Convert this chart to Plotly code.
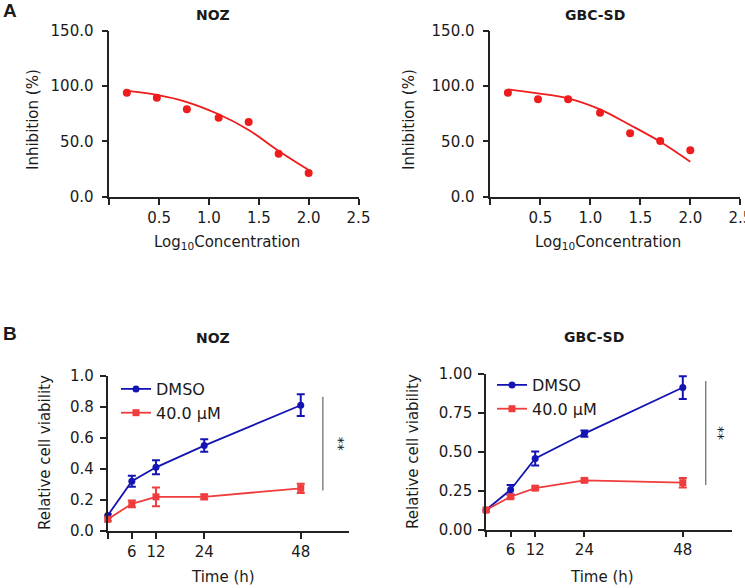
import plotly.graph_objects as go

# ---------------- data ----------------
log_conc = [0.176, 0.477, 0.778, 1.097, 1.398, 1.699, 2.0]
noz_inhib = [94.1, 89.6, 79.1, 71.5, 67.6, 38.9, 21.5]
noz_fit = [95.7, 92.1, 85.7, 74.6, 60.4, 41.4, 24.2]
gbc_inhib = [94.1, 88.2, 88.2, 76.0, 57.4, 50.4, 42.0]
gbc_fit = [97.2, 93.6, 89.1, 79.1, 64.9, 49.8, 31.7]

time_h = [0, 6, 12, 24, 48]
noz_dmso = [0.10, 0.32, 0.41, 0.55, 0.81]
noz_dmso_err = [0.01, 0.035, 0.045, 0.04, 0.07]
noz_40 = [0.075, 0.175, 0.22, 0.22, 0.275]
noz_40_err = [0.01, 0.022, 0.06, 0.015, 0.03]
gbc_dmso = [0.125, 0.255, 0.455, 0.615, 0.91]
gbc_dmso_err = [0.01, 0.03, 0.045, 0.02, 0.073]
gbc_40 = [0.125, 0.21, 0.265, 0.315, 0.30]
gbc_40_err = [0.008, 0.01, 0.01, 0.01, 0.03]

conc_ticks = [0.5, 1.0, 1.5, 2.0, 2.5]
inhib_ticks = [0, 50, 100, 150]
time_ticks = [6, 12, 24, 48]
origin_tick = [0]
noz_via_ticks = [0, 0.2, 0.4, 0.6, 0.8, 1.0]
gbc_via_ticks = [0, 0.25, 0.5, 0.75, 1.0]

noz_sig_x = [53.5, 53.5]
noz_sig_y = [0.26, 0.865]
noz_star = (57.6, 0.56)
gbc_sig_x = [53.6, 53.6]
gbc_sig_y = [0.285, 0.952]
gbc_star = (57.0, 0.62)

# ---------------- style ----------------
W, H = 745, 588
FONT = "DejaVu Sans"
TXT = "#1a1a1a"
RED_TOP = "#ee1c1c"
BLUE = "#1414b4"
RED = "#f03c3c"
AX = "#222222"


def fx(px):
    return px / W


def fy(py):
    return 1 - py / H


fig = go.Figure()

# top panels
fig.add_trace(go.Scatter(x=log_conc, y=noz_fit, mode="lines", line=dict(color=RED_TOP, width=1.8, shape="spline"),
                         xaxis="x", yaxis="y", showlegend=False, cliponaxis=False))
fig.add_trace(go.Scatter(x=log_conc, y=noz_inhib, mode="markers", marker=dict(color=RED_TOP, size=8),
                         xaxis="x", yaxis="y", showlegend=False, cliponaxis=False))
fig.add_trace(go.Scatter(x=log_conc, y=gbc_fit, mode="lines", line=dict(color=RED_TOP, width=1.8, shape="spline"),
                         xaxis="x2", yaxis="y2", showlegend=False, cliponaxis=False))
fig.add_trace(go.Scatter(x=log_conc, y=gbc_inhib, mode="markers", marker=dict(color=RED_TOP, size=8),
                         xaxis="x2", yaxis="y2", showlegend=False, cliponaxis=False))

# bottom panels
def eb(arr, color):
    return dict(type="data", array=arr, visible=True, color=color, thickness=2, width=4)


fig.add_trace(go.Scatter(x=time_h, y=noz_dmso, error_y=eb(noz_dmso_err, BLUE), mode="lines+markers", name="DMSO",
                         line=dict(color=BLUE, width=1.8), marker=dict(symbol="circle", size=7, color=BLUE),
                         xaxis="x3", yaxis="y3", legend="legend", cliponaxis=False))
fig.add_trace(go.Scatter(x=time_h, y=noz_40, error_y=eb(noz_40_err, RED), mode="lines+markers", name="40.0 μM",
                         line=dict(color=RED, width=1.8), marker=dict(symbol="square", size=7, color=RED),
                         xaxis="x3", yaxis="y3", legend="legend", cliponaxis=False))
fig.add_trace(go.Scatter(x=time_h, y=gbc_dmso, error_y=eb(gbc_dmso_err, BLUE), mode="lines+markers", name="DMSO",
                         line=dict(color=BLUE, width=1.8), marker=dict(symbol="circle", size=7, color=BLUE),
                         xaxis="x4", yaxis="y4", legend="legend2", cliponaxis=False))
fig.add_trace(go.Scatter(x=time_h, y=gbc_40, error_y=eb(gbc_40_err, RED), mode="lines+markers", name="40.0 μM",
                         line=dict(color=RED, width=1.8), marker=dict(symbol="square", size=7, color=RED),
                         xaxis="x4", yaxis="y4", legend="legend2", cliponaxis=False))

# significance lines
fig.add_trace(go.Scatter(x=noz_sig_x, y=noz_sig_y, mode="lines", line=dict(color="#666666", width=1.2),
                         xaxis="x3", yaxis="y3", showlegend=False, cliponaxis=False))
fig.add_trace(go.Scatter(x=gbc_sig_x, y=gbc_sig_y, mode="lines", line=dict(color="#666666", width=1.2),
                         xaxis="x4", yaxis="y4", showlegend=False, cliponaxis=False))

axis_common = dict(showline=True, linecolor=AX, linewidth=1.6, ticks="outside", ticklen=6,
                   tickwidth=1.6, tickcolor=AX, showgrid=False, zeroline=False, automargin=False,
                   ticklabeloverflow="allow", tickfont=dict(family=FONT, size=15, color=TXT))
origin_minor = dict(tickmode="array", tickvals=origin_tick, ticks="outside", ticklen=6, tickwidth=1.6,
                    tickcolor=AX, showgrid=False)

fig.update_layout(
    width=W, height=H, margin=dict(l=0, r=0, t=0, b=0, pad=0, autoexpand=False),
    paper_bgcolor="white", plot_bgcolor="white",
    font=dict(family=FONT, color=TXT),
    xaxis=dict(domain=[fx(109.3), fx(358.5)], range=[0, 2.5], tickvals=conc_ticks, tickformat=".1f",
               anchor="y", minor=origin_minor, **axis_common),
    yaxis=dict(domain=[fy(196.7), fy(31)], range=[0, 150], tickvals=inhib_ticks, tickformat=".1f",
               anchor="x", ticklabelstandoff=5, **axis_common),
    xaxis2=dict(domain=[fx(490.3), fx(740.3)], range=[0, 2.5], tickvals=conc_ticks, tickformat=".1f",
                anchor="y2", minor=origin_minor, **axis_common),
    yaxis2=dict(domain=[fy(196.7), fy(31)], range=[0, 150], tickvals=inhib_ticks, tickformat=".1f",
                anchor="x2", ticklabelstandoff=5, **axis_common),
    xaxis3=dict(domain=[fx(107.7), fx(349)], range=[0, 60], tickvals=time_ticks,
                anchor="y3", minor=origin_minor, **axis_common),
    yaxis3=dict(domain=[fy(531), fy(375.7)], range=[0, 1.0], tickvals=noz_via_ticks, tickformat=".1f",
                anchor="x3", ticklabelstandoff=3, **axis_common),
    xaxis4=dict(domain=[fx(486), fx(732)], range=[0, 60], tickvals=time_ticks,
                anchor="y4", minor=origin_minor, **axis_common),
    yaxis4=dict(domain=[fy(529.5), fy(373.5)], range=[0, 1.0], tickvals=gbc_via_ticks, tickformat=".2f",
                anchor="x4", ticklabelstandoff=3, **axis_common),
    legend=dict(x=fx(116), y=fy(372), xanchor="left", yanchor="top", bgcolor="rgba(0,0,0,0)",
                font=dict(family=FONT, size=16, color=TXT), tracegroupgap=0, itemwidth=30),
    legend2=dict(x=fx(492), y=fy(368), xanchor="left", yanchor="top", bgcolor="rgba(0,0,0,0)",
                 font=dict(family=FONT, size=16, color=TXT), tracegroupgap=0, itemwidth=30),
)

ann = []


def text(x, y, t, size=15, bold=False, angle=0, family=FONT, xref="paper", yref="paper"):
    ann.append(dict(x=x, y=y, xref=xref, yref=yref, text=("<b>%s</b>" % t) if bold else t, showarrow=False,
                    textangle=angle, xanchor="center", yanchor="middle",
                    font=dict(family=family, size=size, color=TXT)))


# panel letters
text(fx(10), fy(11), "A", size=19, bold=True, family="Liberation Sans")
text(fx(10), fy(333), "B", size=19, bold=True, family="Liberation Sans")
# titles
text(fx(213), fy(15), "NOZ", size=14, bold=True)
text(fx(595), fy(15), "GBC-SD", size=14, bold=True)
text(fx(213), fy(338), "NOZ", size=14, bold=True)
text(fx(594), fy(337), "GBC-SD", size=14, bold=True)
# axis titles
text(fx(33), fy(120), "Inhibition (%)", size=15, angle=-90)
text(fx(409), fy(120), "Inhibition (%)", size=15, angle=-90)
text(fx(227), fy(243), "Log<sub>10</sub>Concentration", size=15)
text(fx(608), fy(243), "Log<sub>10</sub>Concentration", size=15)
text(fx(45), fy(453), "Relative cell viability", size=15, angle=-90)
text(fx(413), fy(452), "Relative cell viability", size=15, angle=-90)
text(fx(223), fy(577), "Time (h)", size=15)
text(fx(602), fy(577), "Time (h)", size=15)
# stars
ann.append(dict(x=noz_star[0], y=noz_star[1], xref="x3", yref="y3", text="**", showarrow=False, textangle=90,
                font=dict(family=FONT, size=14, color=TXT)))
ann.append(dict(x=gbc_star[0], y=gbc_star[1], xref="x4", yref="y4", text="**", showarrow=False, textangle=90,
                font=dict(family=FONT, size=14, color=TXT)))

fig.update_layout(annotations=ann)
fig.write_html("out.html", config={"displayModeBar": False},
               post_script="document.body.style.margin='0px';document.body.style.overflow='hidden';")
